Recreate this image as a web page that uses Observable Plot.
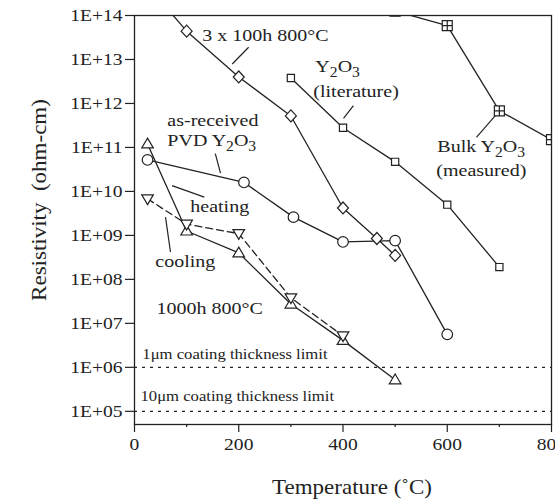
<!DOCTYPE html>
<html>
<head>
<meta charset="utf-8">
<script src="https://cdn.jsdelivr.net/npm/d3@7"></script>
<script src="https://cdn.jsdelivr.net/npm/@observablehq/plot@0.6"></script>
<style>
  body { margin: 0; background: #fff; overflow: hidden; }
</style>
</head>
<body>
<div id="chart"></div>
<script>
// Resistivity of Y2O3 coatings versus temperature (ohm-cm, log scale)
const temps3x100 = [25, 100, 200, 300, 400, 465, 500];
const rho3x100 = [4.8e14, 4.4e13, 4.0e12, 5.2e11, 4.2e9, 8.5e8, 3.5e8];

const tempsAsReceived = [25, 210, 305, 400, 500, 600];
const rhoAsReceived = [5.2e10, 1.6e10, 2.6e9, 7.1e8, 7.6e8, 5.6e6];

const temps1000hHeat = [25, 100, 200, 300, 400, 500];
const rho1000hHeat = [1.2e11, 1.26e9, 4.0e8, 2.75e7, 4.1e6, 5.2e5];

const temps1000hCool = [25, 100, 200, 300, 400];
const rho1000hCool = [6.8e9, 1.8e9, 1.1e9, 3.8e7, 5.2e6];

const tempsLiterature = [300, 400, 500, 600, 700];
const rhoLiterature = [3.8e12, 2.8e11, 4.7e10, 5.0e9, 1.9e8];

const tempsBulk = [500, 600, 700, 800];
const rhoBulk = [1.26e14, 5.9e13, 6.8e11, 1.5e11];

const thicknessLimits = [1e6, 1e5];

const xTicks = [0, 200, 400, 600, 800];
const xMinorTicks = [100, 300, 500, 700];
const yTicks = [1e5, 1e6, 1e7, 1e8, 1e9, 1e10, 1e11, 1e12, 1e13, 1e14];

// Annotation texts (underscore marks a subscript digit)
const noteText = ["3 x 100h 800°C", "Y_2O_3", "(literature)", "Bulk Y_2O_3", "(measured)",
                  "as-received", "PVD Y_2O_3", "heating", "cooling", "1000h 800°C"];
const noteT = [130, 347, 343, 581, 579, 63, 63, 107, 40, 42];
const noteRho = [3.5e13, 6.9e12, 1.86e12, 1.05e11, 3.0e10, 4.1e11, 1.45e11, 4.6e9, 2.6e8, 2.2e7];

const limitText = ["1μm coating thickness limit", "10μm coating thickness limit"];
const limitT = [15, 11.5];
const limitRho = [1.95e6, 2.2e5];

// Leader lines from labels to curves
const leaderT1 = [219, 420, 656, 155, 72, 59.5];
const leaderRho1 = [1.9e13, 8.9e11, 1.7e11, 7.2e10, 1.35e10, 2.6e9];
const leaderT2 = [187.5, 401, 693, 165, 134, 69];
const leaderRho2 = [7.9e12, 4.6e11, 5.4e11, 2.6e10, 7.4e9, 4.2e8];

const zip = (xs, ys) => xs.map((x, i) => ({x, y: ys[i]}));

// Marker shapes
const shape = (pts, extra) => ({
  draw(ctx) {
    ctx.moveTo(pts[0][0], pts[0][1]);
    for (let i = 1; i < pts.length; i++) ctx.lineTo(pts[i][0], pts[i][1]);
    ctx.closePath();
    if (extra) extra(ctx);
  }
});
const diamond = shape([[0, -6], [5.5, 0], [0, 6], [-5.5, 0]]);
const smallSquare = shape([[-3.6, -3.6], [3.6, -3.6], [3.6, 3.6], [-3.6, 3.6]]);
const crossSquare = shape([[-5, -5], [5, -5], [5, 5], [-5, 5]], (ctx) => {
  ctx.moveTo(-5, 0); ctx.lineTo(5, 0);
  ctx.moveTo(0, -5); ctx.lineTo(0, 5);
});
const triUp = shape([[0, -5.8], [5.8, 4], [-5.8, 4]]);
const triDown = shape([[0, 5.8], [5.8, -4], [-5.8, -4]]);

const ink = "#222";
const lineOpts = {x: "x", y: "y", stroke: ink, strokeWidth: 1.3, clip: true};
const dotOpts = (symbol, r = 5) => ({x: "x", y: "y", symbol, r, fill: "white", stroke: ink, strokeWidth: 1.2, clip: true});

const series = [
  {data: zip(temps3x100, rho3x100), symbol: diamond},
  {data: zip(tempsAsReceived, rhoAsReceived), symbol: "circle", r: 5.3},
  {data: zip(temps1000hHeat, rho1000hHeat), symbol: triUp},
  {data: zip(temps1000hCool, rho1000hCool), symbol: triDown, dash: "7,4"},
  {data: zip(tempsLiterature, rhoLiterature), symbol: smallSquare},
  {data: zip(tempsBulk, rhoBulk), symbol: crossSquare}
];

const notes = noteText.map((text, i) => ({text, x: noteT[i], y: noteRho[i]}));
const limits = limitText.map((text, i) => ({text, x: limitT[i], y: limitRho[i]}));
const leaders = leaderT1.map((x1, i) => ({x1, y1: leaderRho1[i], x2: leaderT2[i], y2: leaderRho2[i]}));

const chart = Plot.plot({
  width: 555,
  height: 500,
  marginLeft: 134,
  marginRight: 4,
  marginTop: 15,
  marginBottom: 76,
  style: {fontFamily: "'Liberation Serif', 'Times New Roman', serif", color: ink, background: "white"},
  x: {type: "linear", domain: [0, 800]},
  y: {type: "log", domain: [Math.pow(10, 4.7), 1e14]},
  marks: [
    Plot.ruleY(thicknessLimits, {stroke: ink, strokeWidth: 1.2, strokeDasharray: "3,5"}),
    ...series.map(s => Plot.line(s.data, {...lineOpts, strokeDasharray: s.dash})),
    Plot.link(leaders, {x1: "x1", y1: "y1", x2: "x2", y2: "y2", stroke: ink, strokeWidth: 1.2}),
    ...series.map(s => Plot.dot(s.data, dotOpts(s.symbol, s.r))),
    Plot.text(notes, {x: "x", y: "y", text: "text", textAnchor: "start", lineAnchor: "middle", fontSize: 17.4, fill: ink}),
    Plot.text(limits, {x: "x", y: "y", text: "text", textAnchor: "start", lineAnchor: "middle", fontSize: 14.5, fill: ink}),
    Plot.frame({stroke: ink, strokeWidth: 1.3}),
    Plot.axisY({ticks: yTicks, tickSize: 9, tickPadding: 3, fontSize: 17, strokeWidth: 1.2, label: null,
      tickFormat: d => "1E+" + String(Math.round(Math.log10(d))).padStart(2, "0")}),
    Plot.axisX({ticks: xTicks, tickSize: 8, tickPadding: 5, fontSize: 17, strokeWidth: 1.2, label: null,
      tickFormat: d => String(d)}),
    Plot.axisX({ticks: xMinorTicks, tickSize: 3, strokeWidth: 1.2, label: null, tickFormat: () => ""}),
    Plot.text(["Temperature (˚C)"], {frameAnchor: "bottom", dx: 9, dy: 63, textAnchor: "middle", lineAnchor: "middle", fontSize: 20, fill: ink}),
    Plot.text(["Resistivity  (ohm-cm)"], {frameAnchor: "left", dx: -95, dy: -20, rotate: -90, textAnchor: "middle", lineAnchor: "middle", fontSize: 20, fill: ink})
  ]
});

const ns = "http://www.w3.org/2000/svg";
// Subscript digits written as "_2"
for (const t of chart.querySelectorAll("text")) {
  const s = t.textContent;
  if (!s.includes("_")) continue;
  t.textContent = "";
  s.split(/_(\d)/).forEach((p, i) => {
    if (!p) return;
    const ts = document.createElementNS(ns, "tspan");
    ts.textContent = p;
    if (i % 2 === 1) { ts.setAttribute("font-size", "78%"); ts.setAttribute("dy", "5"); }
    else if (i > 0) ts.setAttribute("dy", "-5");
    t.appendChild(ts);
  });
}
// Slightly widened lettering
const S = 1.15;
for (const t of chart.querySelectorAll("text")) {
  const x = +t.getAttribute("x") || 0, y = +t.getAttribute("y") || 0;
  const tr = t.getAttribute("transform") || "";
  t.setAttribute("transform", `${tr} translate(${x},${y}) scale(${S},1) translate(${-x},${-y})`);
}

document.getElementById("chart").appendChild(chart);
</script>
</body>
</html>
